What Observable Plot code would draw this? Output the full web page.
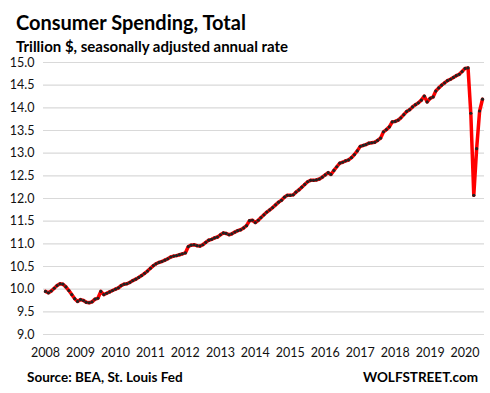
<!DOCTYPE html>
<html>
<head>
<meta charset="utf-8">
<script src="https://cdn.jsdelivr.net/npm/d3@7"></script>
<script src="https://cdn.jsdelivr.net/npm/@observablehq/plot@0.6"></script>
<style>
  html, body { margin: 0; padding: 0; background: #fff; }
  #wrap { position: relative; width: 490px; height: 393px; font-family: Lato, "Open Sans", sans-serif; color: #000; }
  #wrap svg { position: absolute; left: 0; top: 0; }
  .t { position: absolute; white-space: nowrap; font-weight: bold; }
  #title { left: 16px; top: 10px; font-size: 20px; }
  #subtitle { left: 16px; top: 37px; font-size: 15px; }
  #source { left: 27px; top: 369px; font-size: 13.5px; }
  #brand { right: 12px; top: 369px; font-size: 13.5px; }
</style>
</head>
<body>
<div id="wrap">
  <div class="t" id="title">Consumer Spending, Total</div>
  <div class="t" id="subtitle">Trillion $, seasonally adjusted annual rate</div>
  <div class="t" id="source">Source: BEA, St. Louis Fed</div>
  <div class="t" id="brand">WOLFSTREET.com</div>
</div>
<script>
const startYear = 2008;
const v2008 = [9.95, 9.92, 9.96, 10.02, 10.08, 10.12, 10.11, 10.05, 9.97, 9.88, 9.79, 9.73];
const v2009 = [9.77, 9.75, 9.71, 9.70, 9.72, 9.78, 9.80, 9.95, 9.88, 9.91, 9.94, 9.97];
const v2010 = [10.00, 10.03, 10.08, 10.11, 10.12, 10.15, 10.19, 10.22, 10.26, 10.30, 10.35, 10.40];
const v2011 = [10.46, 10.52, 10.56, 10.59, 10.61, 10.64, 10.67, 10.71, 10.73, 10.74, 10.76, 10.78];
const v2012 = [10.80, 10.94, 10.97, 10.98, 10.96, 10.95, 10.98, 11.03, 11.08, 11.10, 11.13, 11.15];
const v2013 = [11.20, 11.24, 11.23, 11.20, 11.22, 11.26, 11.29, 11.31, 11.35, 11.40, 11.51, 11.52];
const v2014 = [11.47, 11.52, 11.58, 11.64, 11.70, 11.75, 11.80, 11.86, 11.92, 11.96, 12.03, 12.07];
const v2015 = [12.07, 12.08, 12.14, 12.19, 12.25, 12.31, 12.37, 12.40, 12.40, 12.41, 12.43, 12.47];
const v2016 = [12.52, 12.57, 12.53, 12.62, 12.70, 12.78, 12.80, 12.83, 12.85, 12.90, 12.97, 13.05];
const v2017 = [13.15, 13.17, 13.19, 13.22, 13.23, 13.24, 13.28, 13.33, 13.47, 13.52, 13.58, 13.69];
const v2018 = [13.70, 13.73, 13.78, 13.85, 13.92, 13.96, 14.02, 14.07, 14.11, 14.17, 14.26, 14.13];
const v2019 = [14.21, 14.24, 14.37, 14.44, 14.50, 14.55, 14.60, 14.63, 14.67, 14.71, 14.74, 14.80];
const v2020 = [14.87, 14.88, 13.88, 12.07, 13.10, 13.93, 14.19];

const yearTicks = [2008, 2009, 2010, 2011, 2012, 2013, 2014, 2015, 2016, 2017, 2018, 2019, 2020];
const yTicks = [9.0, 9.5, 10.0, 10.5, 11.0, 11.5, 12.0, 12.5, 13.0, 13.5, 14.0, 14.5, 15.0];

const series = [v2008, v2009, v2010, v2011, v2012, v2013, v2014, v2015, v2016, v2017, v2018, v2019, v2020];
const data = [];
series.forEach((arr, i) => arr.forEach((v, m) => data.push({date: new Date(Date.UTC(startYear + i, m, 1)), value: v})));

const chart = Plot.plot({
  width: 490,
  height: 393,
  marginTop: 62,
  marginBottom: 59,
  marginLeft: 43,
  marginRight: 6,
  style: {fontFamily: "Lato, 'Open Sans', sans-serif", fontSize: "12.5px", color: "#111", background: "transparent"},
  x: {
    type: "utc",
    domain: [new Date(Date.UTC(2007, 11, 11)), new Date(Date.UTC(2020, 6, 22))],
    ticks: yearTicks.map(y => new Date(Date.UTC(y, 0, 1))),
    tickFormat: d3.utcFormat("%Y"),
    tickSize: 0,
    tickPadding: 14,
    label: null
  },
  y: {
    domain: [9, 15],
    ticks: yTicks,
    tickFormat: d3.format(".1f"),
    tickSize: 0,
    tickPadding: 9,
    label: null
  },
  marks: [
    Plot.ruleY(yTicks, {stroke: "#d9d9d9", strokeWidth: 1.2}),
    Plot.line(data, {x: "date", y: "value", stroke: "#ff0000", strokeWidth: 3.5, strokeLinejoin: "round"}),
    Plot.dot(data, {x: "date", y: "value", r: 1.6, fill: "#222", stroke: "none"})
  ]
});
document.getElementById("wrap").prepend(chart);
</script>
</body>
</html>
